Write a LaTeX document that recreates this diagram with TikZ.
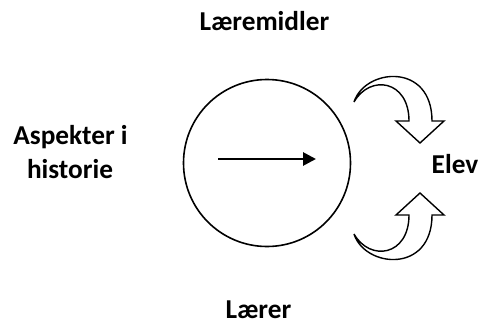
\documentclass[tikz,border=0pt]{standalone}
\usepackage{fontspec}
\setmainfont{Carlito}
\usetikzlibrary{arrows.meta}
\begin{document}
\begin{tikzpicture}[x=1pt,y=-1pt,
  label/.style={font=\bfseries\fontsize{27.3}{32}\selectfont, inner sep=0pt, anchor=base},
  hollowarrow/.style={draw=black, line width=1.4pt, fill=white, line join=miter}]
\useasboundingbox (0,0) rectangle (479,324);

% labels
\node[label] (laeremidler) at (264.5,30) {Læremidler};
\node[label] (aspekter) at (70.5,144) {Aspekter i};
\node[label] (historie) at (70,178) {historie};
\node[label] (elev) at (455,173) {Elev};
\node[label] (laerer) at (258.5,318) {Lærer};

% central circle with its arrow
\node[draw, circle, line width=1.6pt, minimum size=167pt, inner sep=0pt] (disc) at (267,163) {};
\coordinate (shaftstart) at (218,159);
\coordinate (shaftend) at (316,159);
\draw[line width=2.8pt, -{Triangle[length=13pt,width=13pt]}] (shaftstart) -- (shaftend);

% upper curved hollow arrow
\coordinate (ttail) at (354,102);
\path[hollowarrow]
  (ttail) .. controls (365,68) and (432,62) .. (432,121)
  -- (444,121) -- (420,143) -- (396,121) -- (409,121)
  .. controls (409,80) and (370,74) .. (ttail) -- cycle;

% lower curved hollow arrow
\coordinate (btail) at (354,234);
\path[hollowarrow]
  (btail) .. controls (365,268) and (432,274) .. (432,215)
  -- (444,215) -- (420,193) -- (396,215) -- (409,215)
  .. controls (409,256) and (370,262) .. (btail) -- cycle;
\end{tikzpicture}
\end{document}
